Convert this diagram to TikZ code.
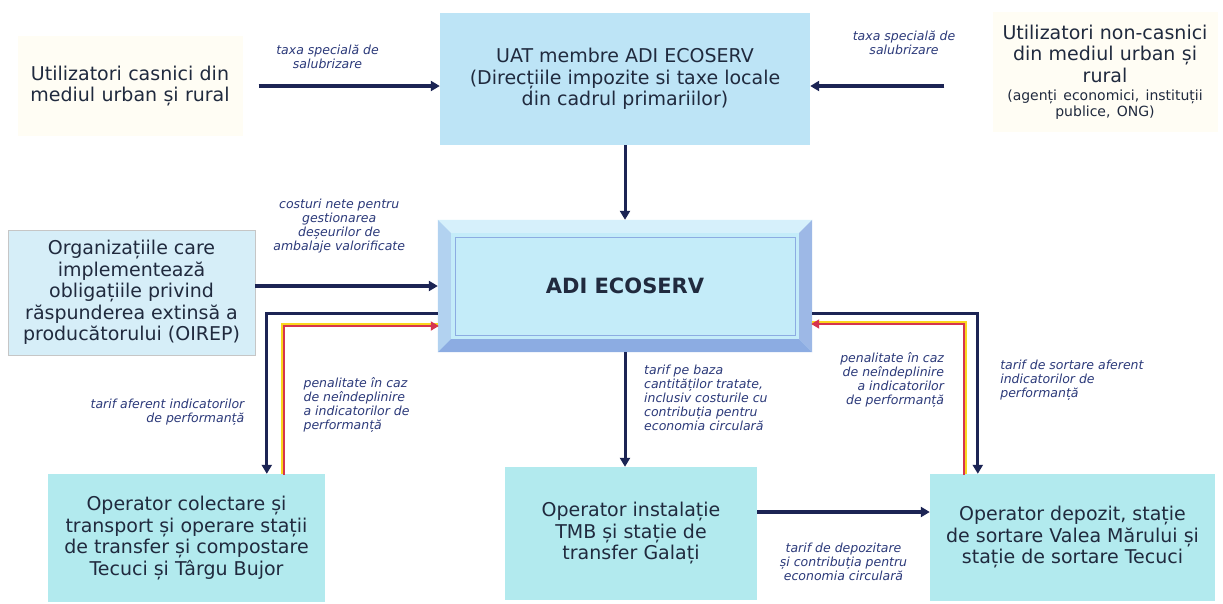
\documentclass[tikz,border=0pt]{standalone}
\usepackage{fontspec}
\setmainfont{DejaVu Sans}
\usetikzlibrary{arrows.meta, positioning}

\definecolor{navy}{RGB}{28,36,84}
\definecolor{lblblue}{RGB}{44,58,122}
\definecolor{boxtext}{RGB}{32,42,62}
\definecolor{skyfill}{RGB}{189,228,246}
\definecolor{adiface}{RGB}{196,236,249}
\definecolor{adilight}{RGB}{214,240,251}
\definecolor{adimid}{RGB}{178,210,240}
\definecolor{adidark}{RGB}{140,172,226}
\definecolor{tealfill}{RGB}{178,234,238}
\definecolor{oirepfill}{RGB}{214,238,248}
\definecolor{cream}{RGB}{255,253,244}
\definecolor{penyellow}{RGB}{250,214,30}
\definecolor{penred}{RGB}{214,52,78}

\tikzset{
  x=1pt, y=-1pt, % one unit per pixel of the scan, y going down
  >={Triangle[length=9pt,width=10pt]}, % filled heads
  every node/.style={text=boxtext, inner sep=0pt},
  txt/.style={font=\fontsize{19}{21.5}\selectfont, align=center}, % texts in the boxes
  lbl/.style={font=\fontsize{12.5}{14}\selectfont\itshape, text=lblblue, inner sep=1pt}, % texts on the flows
  panel/.style={txt, fill=skyfill},
  adibox/.style={font=\fontsize{21}{25}\selectfont\bfseries, fill=adiface},
  oirepbox/.style={txt, fill=oirepfill, draw=gray!45},
  opbox/.style={txt, fill=tealfill},
  flow/.style={->, navy, line width=4.5pt},
  flowv/.style={->, navy, line width=3pt},
  penback/.style={penyellow, line width=3.6pt},
  penfront/.style={->, penred, line width=1.8pt, >={Triangle[length=8pt,width=9pt]}},
}

\begin{document}
\begin{tikzpicture}
    % page of the scan
    \fill[white] (0,0) rectangle (1223,603);
    \useasboundingbox (0,0) rectangle (1223,603);

    \node[txt, fill=cream, text width=225, minimum height=100] (casnici) at (130,86) {Utilizatori casnici din\\mediul urban și rural};
    \node[panel, minimum width=370, minimum height=132] (uat) at (625,79) {UAT membre ADI ECOSERV\\(Direcțiile impozite si taxe locale\\din cadrul primariilor)};
    \node[txt, fill=cream, text width=225, minimum height=120] (noncasnici) at (1105,72) {Utilizatori non-casnici\\din mediul urban și\\rural\par\vspace{2pt}{\fontsize{14}{16}\selectfont(agenți economici, instituții\\publice, ONG)\par}};
    \node[adibox, minimum width=374, minimum height=132] (adi) at (625,286) {ADI ECOSERV};
    \node[oirepbox, minimum width=247, minimum height=125] (oirep) at (131.5,292.5) {Organizațiile care\\implementează\\obligațiile privind\\răspunderea extinsă a\\producătorului (OIREP)};
    \node[opbox, minimum width=277, minimum height=128] (colect) at (186.5,538) {Operator colectare și\\transport și operare stații\\de transfer și compostare\\Tecuci și Târgu Bujor};
    \node[opbox, minimum width=252, minimum height=133] (tmb) at (631,533.5) {Operator instalație\\TMB și stație de\\transfer Galați};
    \node[opbox, minimum width=285, minimum height=127] (depozit) at (1072.5,537.5) {Operator depozit, stație\\de sortare Valea Mărului și\\stație de sortare Tecuci};

    % bevel round ADI ECOSERV
    \fill[adilight] (adi.north west) -- (adi.north east) -- ([shift={(-13pt,-13pt)}]adi.north east) -- ([shift={(13pt,-13pt)}]adi.north west) -- cycle;
    \fill[adimid] (adi.north west) -- ([shift={(13pt,-13pt)}]adi.north west) -- ([shift={(13pt,13pt)}]adi.south west) -- (adi.south west) -- cycle;
    \fill[adidark] (adi.south west) -- ([shift={(13pt,13pt)}]adi.south west) -- ([shift={(-13pt,13pt)}]adi.south east) -- (adi.south east) -- cycle;
    \fill[adidark!85!white] (adi.south east) -- ([shift={(-13pt,13pt)}]adi.south east) -- ([shift={(-13pt,-13pt)}]adi.north east) -- (adi.north east) -- cycle;
    \draw[adidark, thin] ([shift={(17pt,-17pt)}]adi.north west) rectangle ([shift={(-17pt,17pt)}]adi.south east);

    \draw[flow] ([xshift=16pt]casnici.east) -- node[lbl, align=center, above=14pt, pos=0.38] (taxa1) {taxa specială de\\salubrizare} ([yshift=-7pt]uat.west);
    \draw[flow] ([xshift=-48pt,yshift=-14pt]noncasnici.west) -- node[lbl, align=center, above=28pt, pos=0.3] (taxa2) {taxa specială de\\salubrizare} ([yshift=-7pt]uat.east);
    \draw[flowv] (uat) -- (adi);
    \draw[flow] (oirep.east |- adi.west) -- node[lbl, align=center, above=30pt, pos=0.46] (costuri) {costuri nete pentru\\gestionarea\\deșeurilor de\\ambalaje valorificate} (adi.west);

    \draw[flowv] ([yshift=-27pt]adi.west) -| node[lbl, align=right, left=20pt, pos=0.81] (tarif1) {tarif aferent indicatorilor\\de performanță} ([xshift=219pt]colect.north west);
    \draw[penback] ([xshift=235pt]colect.north west) |- node[lbl, align=left, right=18pt, pos=0.23] (pen1) {penalitate în caz\\de neîndeplinire\\a indicatorilor de\\performanță} ([yshift=-39pt]adi.west);
    \draw[penfront, transform canvas={shift={(1pt,-1pt)}}] ([xshift=235pt]colect.north west) |- ([yshift=-39pt]adi.west);

    \draw[flowv] ([yshift=-27pt]adi.east) -| node[lbl, align=left, right=20pt, pos=0.71] (tarif2) {tarif de sortare aferent\\indicatorilor de\\performanță} ([xshift=48pt]depozit.north west);
    \draw[penback] ([xshift=35pt]depozit.north west) |- node[lbl, align=right, left=18pt, pos=0.31] (pen2) {penalitate în caz\\de neîndeplinire\\a indicatorilor\\de performanță} ([yshift=-37pt]adi.east);
    \draw[penfront, transform canvas={shift={(-1pt,-1pt)}}] ([xshift=35pt]depozit.north west) |- ([yshift=-37pt]adi.east);

    \draw[flowv] (adi.south) -- (adi.south |- tmb.north);
    \node[lbl, align=left, below right=12pt and 18pt of adi.south] (baza) {tarif pe baza\\cantităților tratate,\\inclusiv costurile cu\\contribuția pentru\\economia circulară};

    \draw[flow] ([yshift=21.5pt]tmb.east) -- node[lbl, align=center, below=28pt] (depo) {tarif de depozitare\\și contribuția pentru\\economia circulară} ([yshift=25.5pt]depozit.west);
\end{tikzpicture}
\end{document}
